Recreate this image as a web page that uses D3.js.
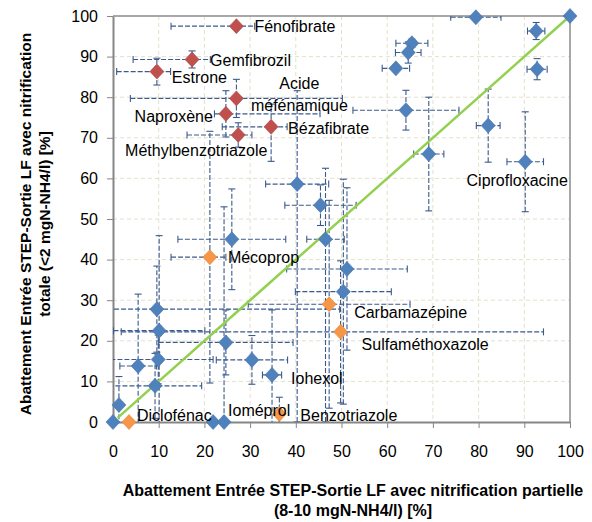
<!DOCTYPE html>
<html>
<head>
<meta charset="utf-8">
<script src="https://cdn.jsdelivr.net/npm/d3@7"></script>
<style>
  body { margin: 0; background: #fff; }
  svg { display: block; }
  text { font-family: "Liberation Sans", Arial, sans-serif; }
</style>
</head>
<body>
<svg id="chart" width="592" height="522"></svg>
<script>
// ---- data -----------------------------------------------------------------
const tickValues = [0, 10, 20, 30, 40, 50, 60, 70, 80, 90, 100];

// Blue series (compounds without specific highlight)
const blueLabels = ["", "", "", "", "", "", "", "", "", "Iohexol", "", "Ioméprol",
  "", "", "", "", "", "", "", "", "", "", "", "", "", "", "", "", "Ciprofloxacine"];
const blueX = [0, 1.3, 9.2, 5.5, 9.9, 10.1, 9.6, 24.7, 30.4, 34.8, 21.9, 24.3,
  26.0, 40.3, 45.4, 46.5, 51.2, 50.4, 79.4, 100, 92.6, 65.4, 64.6, 61.9, 92.8, 64.1, 69.1, 82.1, 90.2];
const blueY = [0, 4.2, 8.9, 13.8, 15.4, 22.5, 27.8, 19.6, 15.3, 11.6, 0, 0,
  45.0, 58.6, 53.4, 45.0, 37.7, 32.1, 99.7, 100, 96.3, 93.3, 91.0, 87.1, 86.9, 76.8, 66.0, 73.0, 64.1];
const blueXMinus = [0, 0, 10.2, 4, 12, 10, 40, 14.7, 7.8, 2.1, 0, 0,
  11.8, 6.9, 7.8, 4.1, 13.2, 10.5, 5.5, 0, 1.9, 3.5, 2.8, 3, 2.2, 11.6, 3.3, 2.6, 4];
const blueXPlus = [0, 0, 10.2, 4, 12, 10, 40, 14.7, 7.8, 2.1, 0, 0,
  11.8, 6.9, 7.8, 4.1, 13.2, 10.5, 5.5, 0, 1.9, 3.5, 2.8, 3, 2.2, 11.6, 3.3, 2.6, 4];
const blueYMinus = [0, 7, 8, 17.7, 6, 23.4, 10.6, 8, 6, 16, 0, 53,
  12.4, 58.6, 5, 45, 20, 27.7, 0, 0, 2.1, 1, 2.6, 0.5, 2.6, 4.9, 14, 9, 12.3];
const blueYPlus = [0, 7, 8, 17.7, 6, 23.4, 10.6, 8, 6, 16, 0, 53,
  12.4, 23, 5, 17.5, 20, 27.7, 0, 0, 2.1, 1, 2.6, 0.5, 2.6, 4.9, 14, 9, 12.3];

// Red series (acidic pharmaceuticals and hormones)
const redLabels = ["Fénofibrate", "Gemfibrozil", "Estrone", "Acide\nméfénamique",
  "Naproxène", "Bézafibrate", "Méthylbenzotriazole"];
const redX = [27, 17.3, 9.6, 27, 24.7, 34.6, 27.4];
const redY = [97.5, 89.3, 86.3, 79.7, 75.9, 72.7, 70.7];
const redXMinus = [14.3, 12.9, 8.8, 23.2, 2.5, 10.7, 11.2];
const redXPlus = [4, 4, 3, 23.2, 20.6, 3.5, 3];
const redYMinus = [0, 2.1, 3.3, 4.7, 5.7, 8.5, 3];
const redYPlus = [0, 2.1, 3.3, 4.7, 5.7, 5.6, 3];

// Orange series
const orangeLabels = ["Mécoprop", "Carbamazépine", "Sulfaméthoxazole", "Diclofénac", "Benzotriazole"];
const orangeX = [21.2, 47.3, 49.8, 3.5, 36.4];
const orangeY = [40.6, 29.0, 22.2, 0, 2.0];
const orangeXMinus = [8.5, 17.7, 48, 0, 0];
const orangeXPlus = [3.5, 17.7, 44.4, 0, 0];
const orangeYMinus = [31, 25.6, 17.5, 0, 4.1];
const orangeYPlus = [31, 25.6, 17.5, 0, 4.1];

// 1:1 reference line
const refLineX = [1, 100];

// ---- styling ---------------------------------------------------------------
const colors = { blue: "#4f81bd", red: "#c0504d", orange: "#f79646", ref: "#92d050" };
// label placement relative to its marker: [dx, dy, anchor]
const labelPlacement = {
  "Fénofibrate": [18, 0, "start"],
  "Gemfibrozil": [18, 1, "start"],
  "Estrone": [15, 5, "start"],
  "Acide\nméfénamique": [63, -15, "middle"],
  "Naproxène": [-13, 2, "end"],
  "Bézafibrate": [17, 1, "start"],
  "Méthylbenzotriazole": [-42, 15, "middle"],
  "Mécoprop": [18, 0, "start"],
  "Carbamazépine": [25, 8, "start"],
  "Sulfaméthoxazole": [21, 12, "start"],
  "Diclofénac": [8, -7, "start"],
  "Benzotriazole": [21, 1, "start"],
  "Ciprofloxacine": [-8, 18, "middle"],
  "Iohexol": [19, 3, "start"],
  "Ioméprol": [4, -12, "start"]
};

function buildSeries(name, labels, xs, ys, xm, xp, ym, yp) {
  return xs.map((v, i) => ({
    series: name, label: labels[i], x: v, y: ys[i],
    xm: xm[i], xp: xp[i], ym: ym[i], yp: yp[i]
  }));
}
const series = [
  buildSeries("blue", blueLabels, blueX, blueY, blueXMinus, blueXPlus, blueYMinus, blueYPlus),
  buildSeries("red", redLabels, redX, redY, redXMinus, redXPlus, redYMinus, redYPlus),
  buildSeries("orange", orangeLabels, orangeX, orangeY, orangeXMinus, orangeXPlus, orangeYMinus, orangeYPlus)
];
const allPoints = series.flat();

// ---- layout ----------------------------------------------------------------
const plot = { left: 113, right: 570, top: 16, bottom: 422 };
const x = d3.scaleLinear().domain([0, 100]).range([plot.left, plot.right]);
const y = d3.scaleLinear().domain([0, 100]).range([plot.bottom, plot.top]);

const svg = d3.select("#chart");
svg.append("defs").append("clipPath").attr("id", "plotClip")
  .append("rect")
  .attr("x", plot.left).attr("y", plot.top)
  .attr("width", plot.right - plot.left).attr("height", plot.bottom - plot.top);

// gridlines
const grid = svg.append("g").attr("class", "grid")
  .attr("stroke", "#e4e0cc").attr("stroke-width", 1).attr("stroke-dasharray", "4,3");
grid.selectAll("line.v").data(tickValues.slice(1, -1)).join("line").attr("class", "v")
  .attr("x1", d => x(d)).attr("x2", d => x(d)).attr("y1", plot.top).attr("y2", plot.bottom);
grid.selectAll("line.h").data(tickValues.slice(1, -1)).join("line").attr("class", "h")
  .attr("y1", d => y(d)).attr("y2", d => y(d)).attr("x1", plot.left).attr("x2", plot.right);

// plot frame (top and right)
svg.append("path")
  .attr("d", `M${plot.left},${plot.top}H${plot.right}V${plot.bottom}`)
  .attr("fill", "none").attr("stroke", "#8c8c8c").attr("stroke-width", 1.5);

// axes
const fontSize = 16;
const xAxis = svg.append("g").attr("transform", `translate(0,${plot.bottom})`)
  .call(d3.axisBottom(x).tickValues(tickValues).tickSize(6).tickSizeOuter(0).tickPadding(18));
const yAxis = svg.append("g").attr("transform", `translate(${plot.left},0)`)
  .call(d3.axisLeft(y).tickValues(tickValues).tickSize(6).tickSizeOuter(0).tickPadding(9));
[xAxis, yAxis].forEach(g => {
  g.select(".domain").attr("stroke", "#868686").attr("stroke-width", 2);
  g.selectAll(".tick line").attr("stroke", "#868686").attr("stroke-width", 1);
  g.selectAll(".tick text").attr("font-size", fontSize).attr("fill", "#000")
    .attr("font-family", "'Liberation Sans', Arial, sans-serif");
});

// error bars
const capHalf = 3.5;
const errG = svg.append("g").attr("clip-path", "url(#plotClip)")
  .attr("stroke", "#3a5a8c").attr("stroke-width", 1.1).attr("fill", "none");
allPoints.forEach(p => {
  if (p.xm > 0 || p.xp > 0) {
    const x0 = x(p.x - p.xm), x1 = x(p.x + p.xp), yy = y(p.y);
    errG.append("line").attr("x1", x0).attr("x2", x1).attr("y1", yy).attr("y2", yy)
      .attr("stroke-dasharray", "5,2");
    errG.append("line").attr("x1", x0).attr("x2", x0).attr("y1", yy - capHalf).attr("y2", yy + capHalf);
    errG.append("line").attr("x1", x1).attr("x2", x1).attr("y1", yy - capHalf).attr("y2", yy + capHalf);
  }
  if (p.ym > 0 || p.yp > 0) {
    const y0 = y(p.y - p.ym), y1 = y(p.y + p.yp), xx = x(p.x);
    errG.append("line").attr("x1", xx).attr("x2", xx).attr("y1", y0).attr("y2", y1)
      .attr("stroke-dasharray", "5,2");
    errG.append("line").attr("y1", y0).attr("y2", y0).attr("x1", xx - capHalf).attr("x2", xx + capHalf);
    errG.append("line").attr("y1", y1).attr("y2", y1).attr("x1", xx - capHalf).attr("x2", xx + capHalf);
  }
});

// 1:1 line
svg.append("line")
  .attr("x1", x(refLineX[0])).attr("y1", y(refLineX[0]))
  .attr("x2", x(refLineX[1])).attr("y2", y(refLineX[1]))
  .attr("stroke", colors.ref).attr("stroke-width", 2.5);

// diamond markers
const diamond = "M0,-7.5L7,0L0,7.5L-7,0Z";
svg.append("g").selectAll("path").data(allPoints).join("path")
  .attr("d", diamond)
  .attr("transform", d => `translate(${x(d.x)},${y(d.y)})`)
  .attr("fill", d => colors[d.series])
  .attr("stroke", d => d3.color(colors[d.series]).darker(0.3))
  .attr("stroke-width", 0.6);

// data labels
const labelG = svg.append("g").attr("font-size", fontSize).attr("fill", "#000");
allPoints.filter(p => p.label).forEach(p => {
  const [dx, dy, anchor] = labelPlacement[p.label];
  const t = labelG.append("text")
    .attr("x", x(p.x) + dx).attr("y", y(p.y) + dy)
    .attr("text-anchor", anchor).attr("dominant-baseline", "central");
  p.label.split("\n").forEach((line, i) => {
    t.append("tspan").attr("x", x(p.x) + dx).attr("dy", i === 0 ? 0 : 22).text(line);
  });
});

// axis titles
const xTitle = svg.append("text").attr("font-weight", "bold").attr("font-size", 16)
  .attr("text-anchor", "middle").attr("fill", "#000");
xTitle.append("tspan").attr("x", 353).attr("y", 496)
  .text("Abattement Entrée STEP-Sortie LF avec nitrification partielle");
xTitle.append("tspan").attr("x", 353).attr("y", 516).text("(8-10 mgN-NH4/l) [%]");

const yTitle = svg.append("text").attr("font-weight", "bold").attr("font-size", 15.5)
  .attr("text-anchor", "middle").attr("fill", "#000")
  .attr("transform", "translate(0,224) rotate(-90)");
yTitle.append("tspan").attr("x", 0).attr("y", 31)
  .text("Abattement Entrée STEP-Sortie LF avec nitrification");
yTitle.append("tspan").attr("x", 0).attr("y", 50).text("totale (<2 mgN-NH4/l) [%]");
</script>
</body>
</html>
